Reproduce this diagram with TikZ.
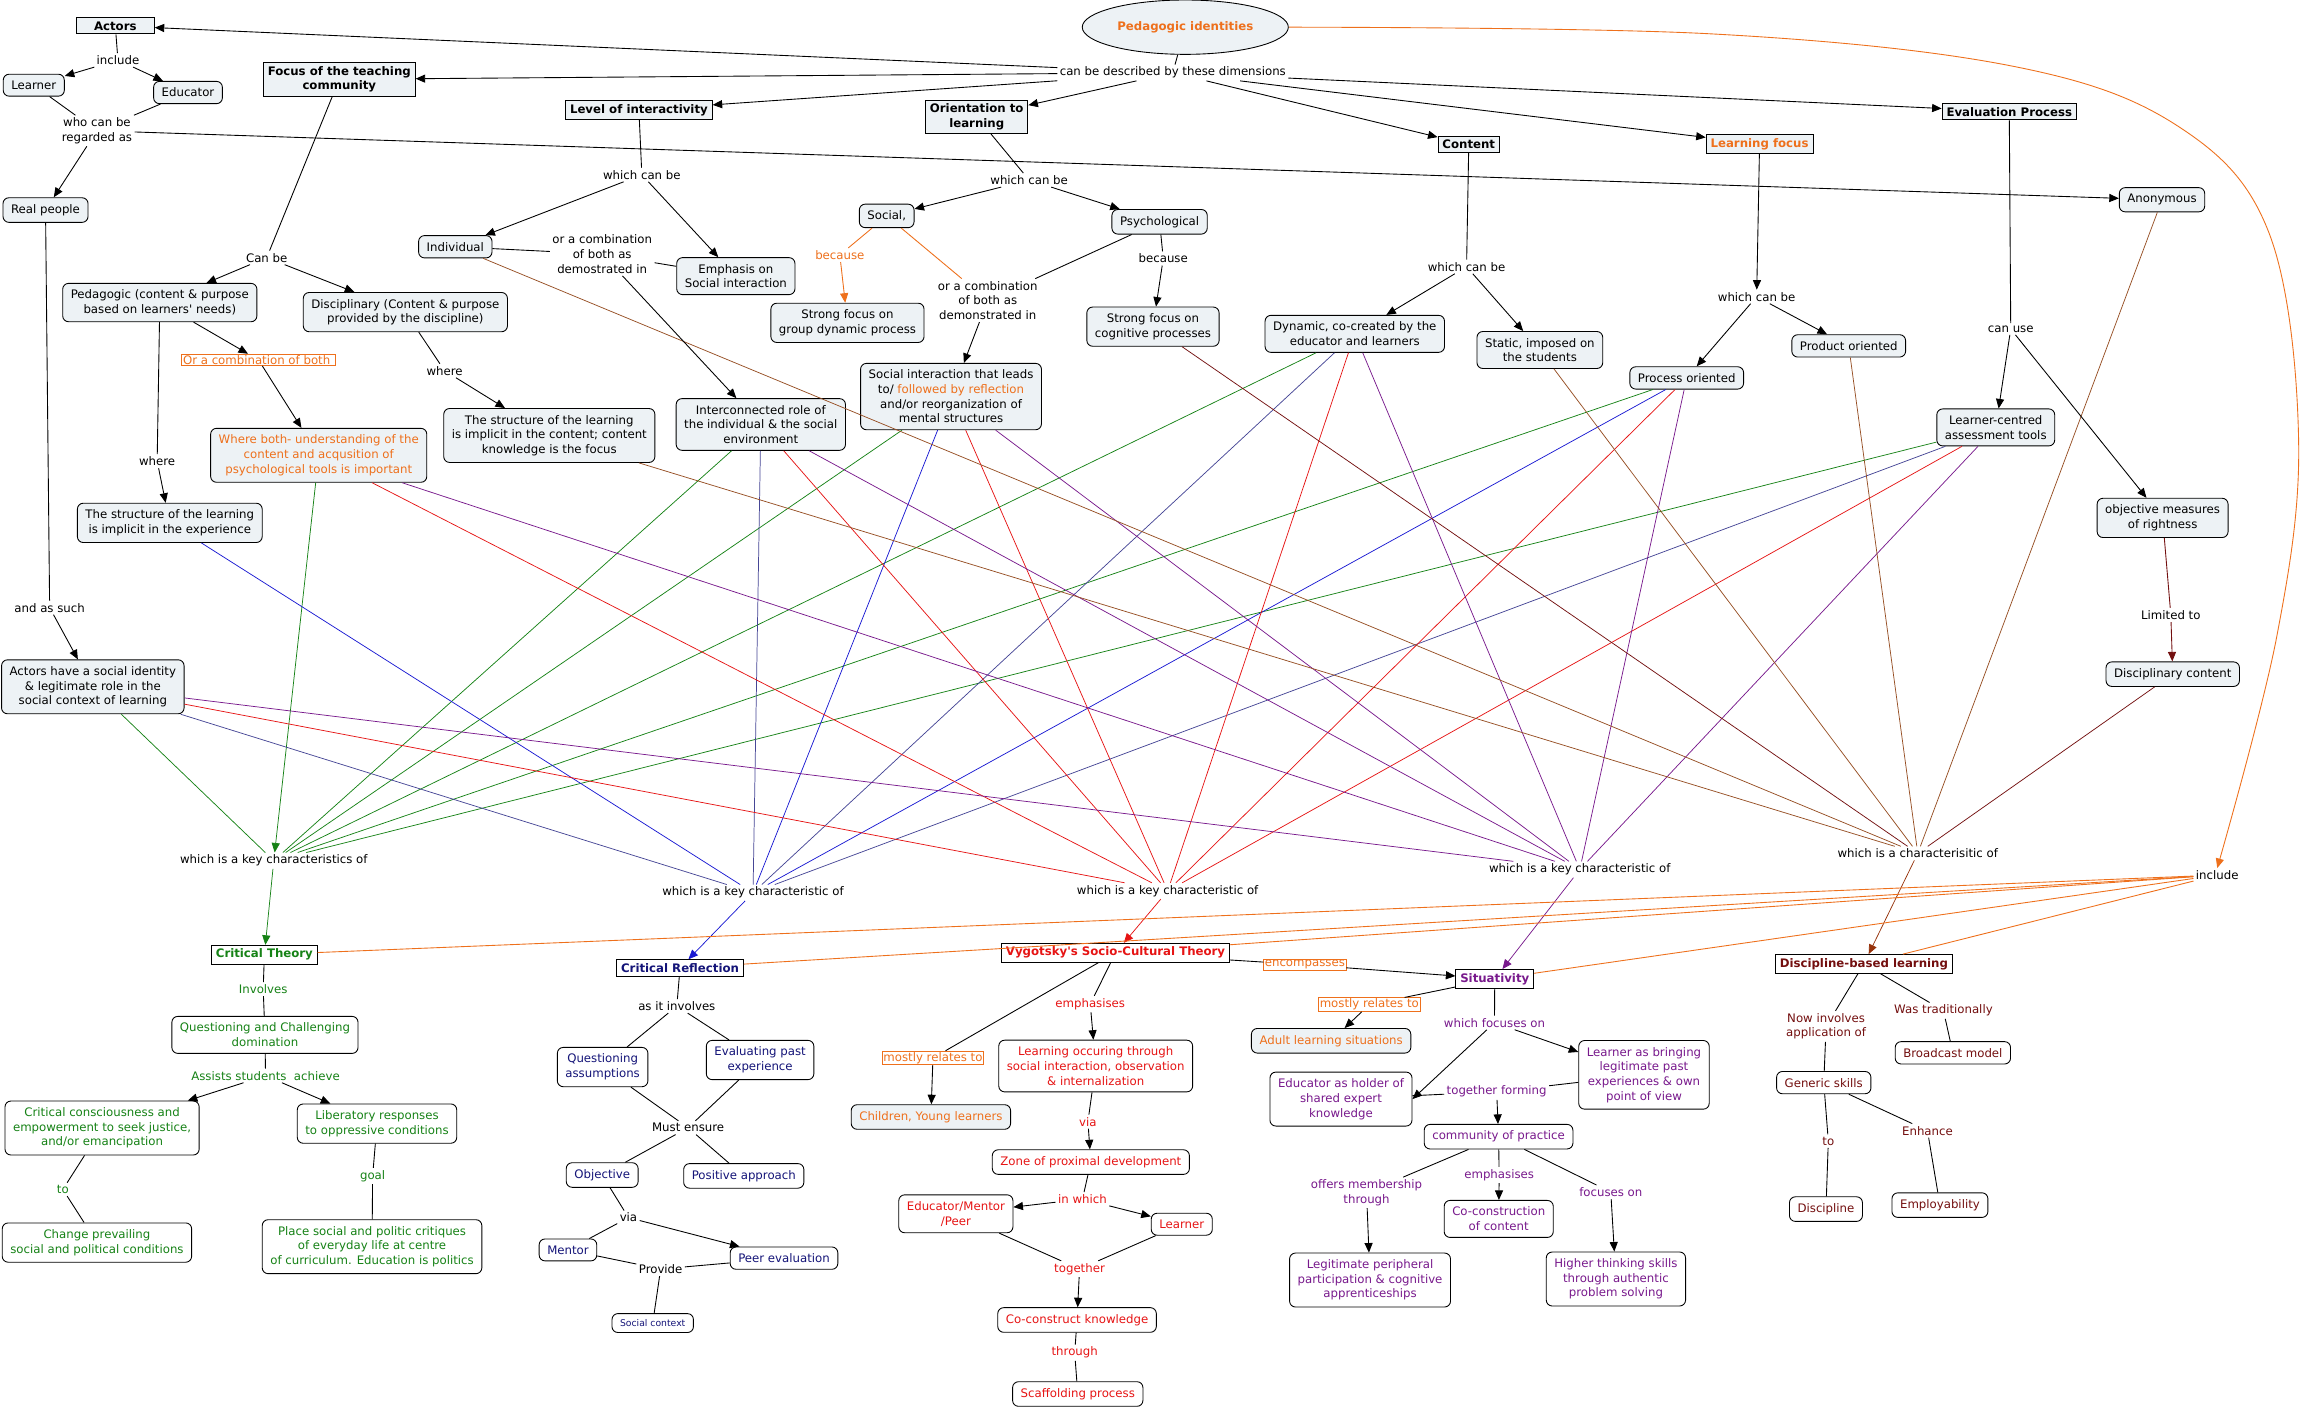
\documentclass[tikz,border=0pt]{standalone}
\usepackage{fontspec}
\setmainfont{DejaVu Sans}
\usetikzlibrary{arrows.meta,shapes.geometric}
\definecolor{nfill}{RGB}{237,242,245}
\definecolor{cOra}{RGB}{238,112,28}
\definecolor{cGrn}{RGB}{22,130,22}
\definecolor{cNav}{RGB}{20,20,120}
\definecolor{cBlu}{RGB}{25,25,210}
\definecolor{cSlb}{RGB}{70,70,150}
\definecolor{cRed}{RGB}{230,20,20}
\definecolor{cPur}{RGB}{120,25,140}
\definecolor{cBrn}{RGB}{150,78,35}
\definecolor{cMar}{RGB}{115,15,15}
\definecolor{cDbr}{RGB}{150,50,10}
\begin{document}
\begin{tikzpicture}[x=1pt,y=-1pt,
  every node/.style={align=center,font=\fontsize{8}{10}\selectfont},
  cpt/.style={draw,rounded corners=4pt,fill=nfill,inner xsep=5.5pt,inner ysep=4.5pt,line width=0.6pt},
  wcpt/.style={cpt,fill=white},
  hd/.style={draw,fill=nfill,font=\fontsize{8}{10}\selectfont\bfseries,inner xsep=3pt,inner ysep=2.5pt,line width=0.6pt},
  whd/.style={hd,fill=white},
  lb/.style={inner sep=1.5pt},
  olb/.style={draw=cOra,text=cOra,fill=white,inner sep=0.8pt,line width=0.5pt},
  ln/.style={line width=0.6pt},
  tip/.style={-{Triangle[length=6.5pt,width=5.5pt]}},
  ar/.style={ln,tip},
  gl/.style={draw=cGrn,line width=0.5pt}, gar/.style={gl,tip},
  bl/.style={draw=cBlu,line width=0.5pt}, bar/.style={bl,tip},
  sl/.style={draw=cSlb,line width=0.5pt},
  rl/.style={draw=cRed,line width=0.5pt}, rar/.style={rl,tip},
  pl/.style={draw=cPur,line width=0.5pt}, par/.style={pl,tip},
  brl/.style={draw=cBrn,line width=0.5pt},
  ml/.style={draw=cMar,line width=0.5pt}, mar/.style={ml,tip},
  dbar/.style={draw=cDbr,line width=0.5pt,tip},
  ol/.style={draw=cOra,line width=0.6pt}, oar/.style={ol,tip}
]
\useasboundingbox (0,0) rectangle (1568,961);
\fill[white] (0,0) rectangle (1568,961);

% ---------------- top part ----------------
\node[ellipse,draw,fill=nfill,line width=0.6pt,minimum width=110pt,minimum height=37pt,text=cOra,font=\fontsize{8}{10}\selectfont\bfseries] (pid) at (807,18.5) {Pedagogic identities};
\node[lb] (desc) at (798.5,49.5) {can be described by these dimensions};
\node[hd,minimum width=53pt] (actors) at (78.5,17.6) {Actors};
\node[hd] (focus) at (231,54) {Focus of the teaching\\community};
\node[hd] (level) at (435,74.9) {Level of interactivity};
\node[hd] (orient) at (665,79.5) {Orientation to\\learning};
\node[hd] (content) at (1000,98.5) {Content};
\node[hd,text=cOra] (lfocus) at (1198,98) {Learning focus};
\node[hd] (evalp) at (1368,76) {Evaluation Process};

\node[lb] (incl1) at (80.3,40.9) {include};
\node[cpt] (learner) at (23,58) {Learner};
\node[cpt] (educator) at (128,63) {Educator};
\node[lb] (whocan) at (66,89) {who can be\\regarded as};
\node[cpt] (realp) at (31,143) {Real people};
\node[cpt] (anon) at (1472,136) {Anonymous};
\node[lb] (assuch) at (33.8,413.7) {and as such};
\node[cpt] (actorsid) at (63.2,467.6) {Actors have a social identity\\\& legitimate role in the\\social context of learning};

\node[lb] (canbe) at (181.6,175.4) {Can be};
\node[cpt] (pedag) at (108.8,206) {Pedagogic (content \& purpose\\based on learners\textquotesingle{} needs)};
\node[cpt] (discip) at (276,212.5) {Disciplinary (Content \& purpose\\provided by the discipline)};
\node[olb] (orcomb1) at (176,245) {Or a combination of both\ };
\node[lb] (where2) at (302.7,252.4) {where};
\node[lb] (where1) at (107,314) {where};
\node[cpt,text=cOra] (whereboth) at (217,310) {Where both- understanding of the\\content and acqusition of\\psychological tools is important};
\node[cpt] (structcont) at (374,296.5) {The structure of the learning\\is implicit in the content; content\\knowledge is the focus};
\node[cpt] (structexp) at (115.6,356) {The structure of the learning\\is implicit in the experience};

\node[lb] (wcb1) at (437,119) {which can be};
\node[cpt] (indiv) at (310,168) {Individual};
\node[lb] (orcombL) at (410,173) {or a combination\\of both as\\demostrated in};
\node[cpt] (emph) at (501,188) {Emphasis on\\Social interaction};
\node[cpt] (interc) at (518,289) {Interconnected role of\\the individual \& the social\\environment};

\node[lb] (wcb2) at (700.7,122.6) {which can be};
\node[cpt] (social) at (603.7,147) {Social,};
\node[cpt] (psych) at (789.5,151) {Psychological};
\node[lb,text=cOra] (because1) at (571.8,173.6) {because};
\node[cpt] (sfgroup) at (577,219.8) {Strong focus on\\group dynamic process};
\node[lb] (orcombR) at (672.5,204.5) {or a combination\\of both as\\demonstrated in};
\node[cpt] (socint) at (647.5,270) {Social interaction that leads\\to/ {\color{cOra}followed by reflection}\\and/or reorganization of\\mental structures};
\node[lb] (because2) at (792,176) {because};
\node[cpt] (sfcog) at (785,222.4) {Strong focus on\\cognitive processes};

\node[lb] (wcb3) at (998.5,181.6) {which can be};
\node[cpt] (dynamic) at (922.4,227.3) {Dynamic, co-created by the\\educator and learners};
\node[cpt] (static) at (1048.4,238.3) {Static, imposed on\\the students};
\node[lb] (wcb4) at (1196,202) {which can be};
\node[cpt] (process) at (1148.4,257.3) {Process oriented};
\node[cpt] (product) at (1258.7,235.5) {Product oriented};
\node[lb] (canuse) at (1369,224) {can use};
\node[cpt] (lcat) at (1358.8,291) {Learner-centred\\assessment tools};
\node[cpt] (objm) at (1472.4,352.6) {objective measures\\of rightness};
\node[lb] (limited) at (1478,418.7) {Limited to};
\node[cpt] (discont) at (1479.3,459) {Disciplinary content};

\node[lb] (kcCT) at (186.4,586) {which is a key characteristics of};
\node[lb] (kcCR) at (512.7,607.8) {which is a key characteristic of};
\node[lb] (kcV) at (795,606.6) {which is a key characteristic of};
\node[lb] (kcS) at (1075.6,592) {which is a key characteristic of};
\node[lb] (kcD) at (1305.7,581) {which is a characterisitic of};
\node[lb] (incl2) at (1509.6,595.8) {include};

% ---------------- bottom headings ----------------
\node[whd,text=cGrn] (ct) at (180,650) {Critical Theory};
\node[whd,text=cNav] (cr) at (463,659) {Critical Reflection};
\node[whd,text=cRed] (vyg) at (759.5,648.7) {Vygotsky\textquotesingle s Socio-Cultural Theory};
\node[whd,text=cPur] (sit) at (1017.7,666.5) {Situativity};
\node[whd,text=cMar] (dbl) at (1269,656.3) {Discipline-based learning};

% Critical theory
\node[lb,text=cGrn] (involves) at (179.2,673.4) {Involves};
\node[wcpt,text=cGrn] (qc) at (180.4,704.6) {Questioning and Challenging\\domination};
\node[lb,text=cGrn] (assists) at (180.8,732.4) {Assists students~ achieve};
\node[wcpt,text=cGrn] (critcons) at (69.5,768) {Critical consciousness and\\empowerment to seek justice,\\and/or emancipation};
\node[wcpt,text=cGrn] (liber) at (256.7,765) {Liberatory responses\\to oppressive conditions};
\node[lb,text=cGrn] (to1) at (42.8,809.8) {to};
\node[lb,text=cGrn] (goal) at (253.7,800.7) {goal};
\node[wcpt,text=cGrn] (change) at (66,846) {Change prevailing\\social and political conditions};
\node[wcpt,text=cGrn] (place) at (253.3,848.8) {Place social and politic critiques\\of everyday life at centre\\of curriculum. Education is politics};

% Critical reflection
\node[lb] (asit) at (460.8,685) {as it involves};
\node[wcpt,text=cNav] (qa) at (410.3,726.5) {Questioning\\assumptions};
\node[wcpt,text=cNav] (evalpast) at (517.5,721.7) {Evaluating past\\experience};
\node[lb] (must) at (468.5,767.8) {Must ensure};
\node[wcpt,text=cNav] (objective) at (410,800) {Objective};
\node[wcpt,text=cNav] (positive) at (506.4,800.6) {Positive approach};
\node[lb] (via1) at (427.9,829) {via};
\node[wcpt,text=cNav] (mentor) at (386.7,851) {Mentor};
\node[lb] (provide) at (449.8,864) {Provide};
\node[wcpt,text=cNav] (peer) at (533.8,856.6) {Peer evaluation};
\node[wcpt,text=cNav,font=\fontsize{6.3}{8}\selectfont,inner ysep=4pt] (socctx) at (444.4,900.8) {Social context};

% Vygotsky
\node[lb,text=cRed] (emph2) at (742.3,683.6) {emphasises};
\node[olb] (mostly1) at (635.2,720.3) {mostly relates to};
\node[cpt,text=cOra] (children) at (633.8,760.5) {Children, Young learners};
\node[wcpt,text=cRed] (learnocc) at (746,725.8) {Learning occuring through\\social interaction, observation\\\& internalization};
\node[lb,text=cRed] (via2) at (740.7,763.7) {via};
\node[wcpt,text=cRed] (zone) at (742.7,791.2) {Zone of proximal development};
\node[lb,text=cRed] (inwhich) at (737,816.4) {in which};
\node[wcpt,text=cRed] (edmp) at (650.8,826.4) {Educator/Mentor\\/Peer};
\node[wcpt,text=cRed] (learner2) at (804.6,833.5) {Learner};
\node[lb,text=cRed] (together) at (735,864) {together};
\node[wcpt,text=cRed] (cocon) at (733.3,898.7) {Co-construct knowledge};
\node[lb,text=cRed] (through) at (731.7,921) {through};
\node[wcpt,text=cRed] (scaff) at (733.8,949.1) {Scaffolding process};

% Situativity
\node[olb] (encomp) at (888.4,656.8) {encompasses};
\node[olb] (mostly2) at (932.3,684) {mostly relates to};
\node[cpt,text=cOra] (adult) at (906.3,708.6) {Adult learning situations};
\node[lb,text=cPur] (focuses) at (1017.5,696.3) {which focuses on};
\node[wcpt,text=cPur] (edhold) at (913,748.3) {Educator as holder of\\shared expert\\knowledge};
\node[lb,text=cPur] (togform) at (1019,743.3) {together forming};
\node[wcpt,text=cPur] (lbring) at (1119.3,731.8) {Learner as bringing\\legitimate past\\experiences \& own\\point of view};
\node[wcpt,text=cPur] (cop) at (1020.3,773.9) {community of practice};
\node[lb,text=cPur] (offers) at (930.4,812) {offers membership\\through};
\node[lb,text=cPur] (emph3) at (1020.7,800) {emphasises};
\node[lb,text=cPur] (focon) at (1096.7,811.6) {focuses on};
\node[wcpt,text=cPur] (coconst) at (1020.4,829.9) {Co-construction\\of content};
\node[wcpt,text=cPur] (lpp) at (932.8,871.5) {Legitimate peripheral\\participation \& cognitive\\apprenticeships};
\node[wcpt,text=cPur] (higher) at (1100.2,870.8) {Higher thinking skills\\through authentic\\problem solving};

% Discipline-based
\node[lb,text=cMar] (nowinv) at (1243.3,698.8) {Now involves\\application of};
\node[lb,text=cMar] (wastrad) at (1323.2,688.1) {Was traditionally};
\node[wcpt,text=cMar] (broadcast) at (1329.6,716.8) {Broadcast model};
\node[wcpt,text=cMar] (generic) at (1241.7,737.1) {Generic skills};
\node[lb,text=cMar] (to2) at (1244.8,776.9) {to};
\node[lb,text=cMar] (enhance) at (1312.3,769.8) {Enhance};
\node[wcpt,text=cMar] (discipline) at (1243.2,823.2) {Discipline};
\node[wcpt,text=cMar] (employ) at (1320.8,820.5) {Employability};

% ---------------- colored cross links ----------------
% green -> Critical Theory
\draw[gar] (whereboth) -- (kcCT);
\foreach \s in {actorsid,interc,socint,dynamic,process,lcat} \draw[gl] (\s) -- (kcCT);
\draw[gar] (kcCT) -- (ct);
% blue -> Critical Reflection
\foreach \s in {structexp,socint,process} \draw[bl] (\s) -- (kcCR);
\foreach \s in {actorsid,interc,dynamic,lcat} \draw[sl] (\s) -- (kcCR);
\draw[bar] (kcCR) -- (cr);
% red -> Vygotsky
\foreach \s in {whereboth,actorsid,interc,socint,dynamic,process,lcat} \draw[rl] (\s) -- (kcV);
\draw[rar] (kcV) -- (vyg);
% purple -> Situativity
\foreach \s in {whereboth,actorsid,interc,socint,dynamic,process,lcat} \draw[pl] (\s) -- (kcS);
\draw[par] (kcS) -- (sit);
% brown -> Discipline-based
\foreach \s in {indiv,structcont,static,product,anon} \draw[brl] (\s) -- (kcD);
\foreach \s in {sfcog,discont} \draw[ml] (\s) -- (kcD);
\draw[dbar] (kcD) -- (dbl);

% orange include
\draw[oar] plot[smooth,tension=0.6] coordinates {(pid.east) (1164,23) (1370,45) (1483,86) (1545,159) (1565,300) (1550,434) (incl2.north)};
\foreach \t in {ct,cr,vyg,sit,dbl} \draw[ol] (incl2) -- (\t);

% ---------------- black links (top) ----------------
\draw[ln] (pid) -- (desc);
\foreach \t in {actors,focus,level,orient,content,lfocus,evalp} \draw[ar] (desc) -- (\t);
\draw[ln] (actors) -- (incl1);
\draw[ar] (incl1) -- (learner);
\draw[ar] (incl1) -- (educator);
\draw[ln] (learner) -- (whocan);
\draw[ln] (educator) -- (whocan);
\draw[ar] (whocan) -- (realp);
\draw[ar] (whocan) -- (anon);
\draw[ln] (realp) -- (assuch);
\draw[ar] (assuch) -- (actorsid);
\draw[ln] (focus) -- (canbe);
\draw[ar] (canbe) -- (pedag);
\draw[ar] (canbe) -- (discip);
\draw[ar] (pedag) -- (orcomb1);
\draw[ar] (orcomb1) -- (whereboth);
\draw[ln] (pedag) -- (where1);
\draw[ar] (where1) -- (structexp);
\draw[ln] (discip) -- (where2);
\draw[ar] (where2) -- (structcont);
\draw[ln] (level) -- (wcb1);
\draw[ar] (wcb1) -- (indiv);
\draw[ar] (wcb1) -- (emph);
\draw[ln] (indiv) -- (orcombL);
\draw[ln] (emph) -- (orcombL);
\draw[ar] (orcombL) -- (interc);
\draw[ln] (orient) -- (wcb2);
\draw[ar] (wcb2) -- (social);
\draw[ar] (wcb2) -- (psych);
\draw[ol] (social) -- (because1);
\draw[oar] (because1) -- (sfgroup);
\draw[ol] (social) -- (orcombR);
\draw[ln] (psych) -- (orcombR);
\draw[ar] (orcombR) -- (socint);
\draw[ln] (psych) -- (because2);
\draw[ar] (because2) -- (sfcog);
\draw[ln] (content) -- (wcb3);
\draw[ar] (wcb3) -- (dynamic);
\draw[ar] (wcb3) -- (static);
\draw[ar] (lfocus) -- (wcb4);
\draw[ar] (wcb4) -- (process);
\draw[ar] (wcb4) -- (product);
\draw[ln] (evalp) -- (canuse);
\draw[ar] (canuse) -- (lcat);
\draw[ar] (canuse) -- (objm);
\draw[ml,line width=0.6pt] (objm) -- (limited);
\draw[mar,line width=0.6pt] (limited) -- (discont);

% ---------------- black links (bottom) ----------------
\draw[ln] (ct) -- (involves);
\draw[ln] (involves) -- (qc);
\draw[ln] (qc) -- (assists);
\draw[ar] (assists) -- (critcons);
\draw[ar] (assists) -- (liber);
\draw[ln] (critcons) -- (to1);
\draw[ln] (to1) -- (change);
\draw[ln] (liber) -- (goal);
\draw[ln] (goal) -- (place);

\draw[ln] (cr) -- (asit);
\draw[ln] (asit) -- (qa);
\draw[ln] (asit) -- (evalpast);
\draw[ln] (qa) -- (must);
\draw[ln] (evalpast) -- (must);
\draw[ln] (must) -- (objective);
\draw[ln] (must) -- (positive);
\draw[ln] (objective) -- (via1);
\draw[ln] (via1) -- (mentor);
\draw[ar] (via1) -- (peer);
\draw[ln] (mentor) -- (provide);
\draw[ln] (peer) -- (provide);
\draw[ln] (provide) -- (socctx);

\draw[ln] (vyg) -- (emph2);
\draw[ar] (emph2) -- (learnocc);
\draw[ln] (vyg) -- (mostly1);
\draw[ar] (mostly1) -- (children);
\draw[ln] (vyg) -- (encomp);
\draw[ar] (encomp) -- (sit);
\draw[ln] (learnocc) -- (via2);
\draw[ar] (via2) -- (zone);
\draw[ln] (zone) -- (inwhich);
\draw[ar] (inwhich) -- (edmp);
\draw[ar] (inwhich) -- (learner2);
\draw[ln] (edmp) -- (together);
\draw[ln] (learner2) -- (together);
\draw[ar] (together) -- (cocon);
\draw[ln] (cocon) -- (through);
\draw[ln] (through) -- (scaff);

\draw[ln] (sit) -- (mostly2);
\draw[ar] (mostly2) -- (adult);
\draw[ln] (sit) -- (focuses);
\draw[ar] (focuses) -- (edhold.east);
\draw[ar] (focuses) -- (lbring);
\draw[ln] (edhold) -- (togform);
\draw[ln] (lbring) -- (togform);
\draw[ar] (togform) -- (cop);
\draw[ln] (cop) -- (offers);
\draw[ar] (offers) -- (lpp);
\draw[ln] (cop) -- (emph3);
\draw[ar] (emph3) -- (coconst);
\draw[ln] (cop) -- (focon);
\draw[ar] (focon) -- (higher);

\draw[ln] (dbl) -- (nowinv);
\draw[ln] (nowinv) -- (generic);
\draw[ln] (dbl) -- (wastrad);
\draw[ln] (wastrad) -- (broadcast);
\draw[ln] (generic) -- (to2);
\draw[ln] (to2) -- (discipline);
\draw[ln] (generic) -- (enhance);
\draw[ln] (enhance) -- (employ);
\end{tikzpicture}
\end{document}
